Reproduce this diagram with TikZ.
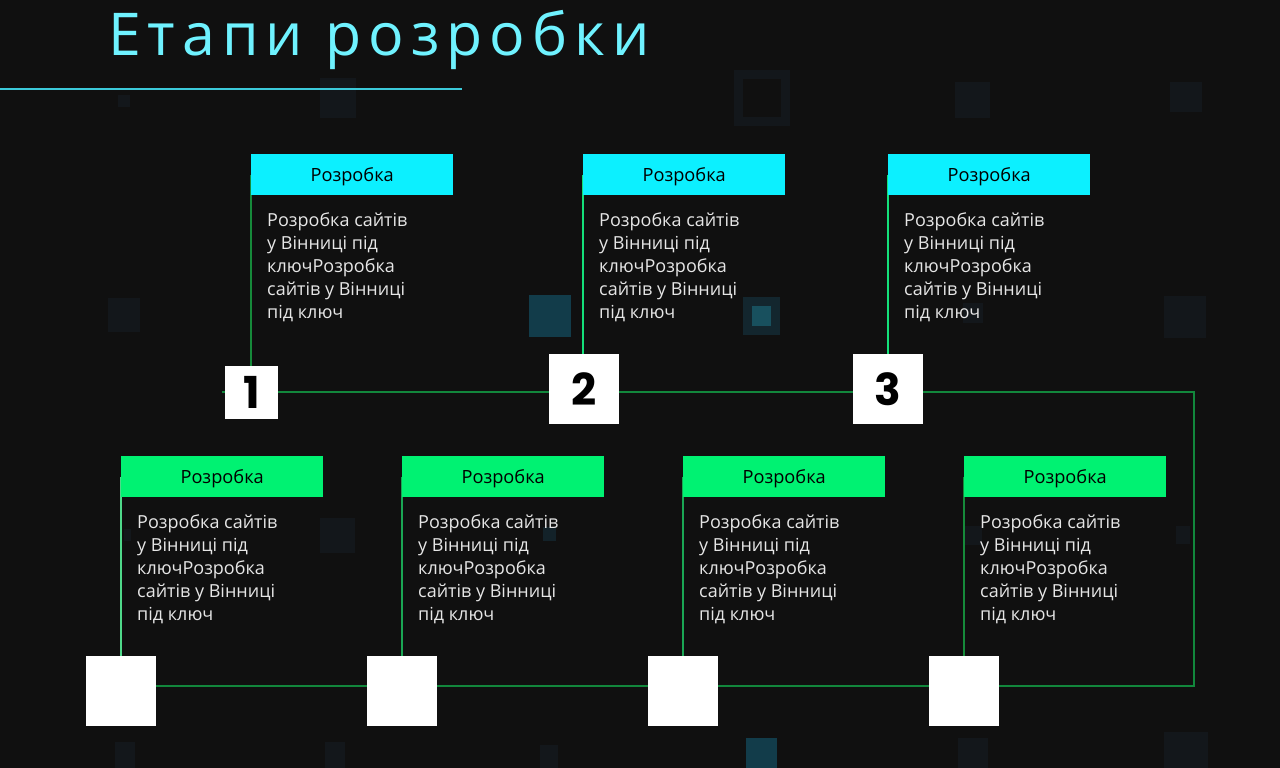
\documentclass[tikz,border=0pt]{standalone}
\usepackage{fontspec}
\setmainfont{Open Sans}
\newfontfamily\titlefont[LetterSpace=11.8]{Open Sans}
\newfontfamily\numfont{Poppins}
\definecolor{bg}{HTML}{101010}
\definecolor{cyanhead}{HTML}{0CF0FF}
\definecolor{greenhead}{HTML}{00F272}
\definecolor{mainline}{HTML}{12873C}
\definecolor{titlecol}{HTML}{6FF2FF}
\definecolor{rulecol}{HTML}{3CCADA}
\definecolor{faint}{HTML}{13171B}
\definecolor{teal}{HTML}{123C4A}
\definecolor{tealb}{HTML}{18505E}
\definecolor{bodytext}{HTML}{E6E6E6}
\definecolor{vdark}{HTML}{168A3A}
\definecolor{vbright}{HTML}{14E07A}
\definecolor{vlight}{HTML}{4FD98A}
\definecolor{vmid}{HTML}{1AA654}
\pgfdeclarelayer{decor}
\pgfdeclarelayer{lines}
\pgfsetlayers{decor,lines,main}
\tikzset{
  headbox/.style={minimum width=202pt, minimum height=41pt, inner sep=0pt, text height=14pt, text depth=0pt, anchor=north west, font=\fontsize{18.2}{20}\selectfont, text=black},
  bodybox/.style={anchor=north west, inner sep=0pt, align=left, font=\fontsize{18}{23}\selectfont, text=bodytext},
  bignum/.style={fill=white, minimum size=70pt, inner sep=0pt, font=\numfont\bfseries\fontsize{44}{44}\selectfont, text=black},
  smallnum/.style={fill=white, minimum size=53pt, inner sep=0pt, font=\numfont\bfseries\fontsize{44}{44}\selectfont, text=black},
  vline/.style={line width=1.2pt},
  mline/.style={draw=mainline, line width=2pt}
}
\begin{document}
\begin{tikzpicture}[x=1pt,y=-1pt]
\begin{pgfonlayer}{decor}
\fill[bg] (0,0) rectangle (1280,768);
\fill[faint] (734,70) rectangle (790,126);
\fill[bg] (743,79) rectangle (781,117);
\fill[faint] (955,82) rectangle (990,118);
\fill[faint] (1170,82) rectangle (1202,112);
\fill[faint] (320,78) rectangle (356,118);
\fill[faint] (118,95) rectangle (130,107);
\fill[faint] (108,298) rectangle (140,332);
\fill[faint] (1164,296) rectangle (1206,338);
\fill[faint] (963,303) rectangle (983,323);
\fill[teal] (529,295) rectangle (571,337);
\fill[faint!60!teal] (743,297) rectangle (780,335);
\fill[tealb] (752,306) rectangle (771,326);
\fill[faint] (320,518) rectangle (355,553);
\fill[faint] (124,529) rectangle (131,541);
\fill[faint!70!teal] (543,527) rectangle (556,541);
\fill[faint] (963,526) rectangle (982,545);
\fill[faint] (1176,526) rectangle (1190,544);
\fill[faint] (115,742) rectangle (135,768);
\fill[faint] (325,742) rectangle (345,768);
\fill[faint] (540,745) rectangle (558,768);
\fill[teal] (746,738) rectangle (777,768);
\fill[faint] (958,738) rectangle (988,768);
\fill[faint] (1164,732) rectangle (1208,768);
\end{pgfonlayer}
\useasboundingbox (0,0) rectangle (1280,768);
% title
\node (title) [anchor=base west, inner sep=0pt, text=titlecol, font=\titlefont\fontsize{59}{60}\selectfont] at (108,56) {Етапи розробки};
\draw[rulecol, line width=1pt] (0,89) -- (462,89);
% main line corners
\coordinate (ls) at (222,392);
\coordinate (rt) at (1194,392);
\coordinate (rb) at (1194,686);
% headers top
\node (h1) [headbox, fill=cyanhead] at (251,154) {Розробка};
\node (h2) [headbox, fill=cyanhead] at (583,154) {Розробка};
\node (h3) [headbox, fill=cyanhead] at (888,154) {Розробка};
% headers bottom
\node (g1) [headbox, fill=greenhead] at (121,456) {Розробка};
\node (g2) [headbox, fill=greenhead] at (402,456) {Розробка};
\node (g3) [headbox, fill=greenhead] at (683,456) {Розробка};
\node (g4) [headbox, fill=greenhead] at (964,456) {Розробка};
% number squares
\node (n1) [smallnum] at (251.5,392.5) {1};
\node (n2) [bignum] at (584,389) {2};
\node (n3) [bignum] at (888,389) {3};
\node (s1) [bignum] at (121,691) {};
\node (s2) [bignum] at (402,691) {};
\node (s3) [bignum] at (683,691) {};
\node (s4) [bignum] at (964,691) {};
% body texts
\foreach \nm/\x/\y in {t1/267/213, t2/599/213, t3/904/213, b1/137/515, b2/418/515, b3/699/515, b4/980/515}{
  \node (\nm) [bodybox] at (\x,\y) {Розробка сайтів\\у Вінниці під\\ключРозробка\\сайтів у Вінниці\\під ключ};
}
% connectors
\begin{pgfonlayer}{lines}
\draw[mline] (ls) -- (rt) -- (rb) -- (rb -| s1.center);
\draw[vline, draw=vdark] (h1.west) -- (h1.west |- n1.center);
\draw[vline, draw=vbright] (h2.west) -- (h2.west |- n2.center);
\draw[vline, draw=vbright] (h3.west) -- (h3.west |- n3.center);
\draw[vline, draw=vlight] (g1.west) -- (g1.west |- s1.center);
\draw[vline, draw=vmid] (g2.west) -- (g2.west |- s2.center);
\draw[vline, draw=vmid] (g3.west) -- (g3.west |- s3.center);
\draw[vline, draw=vdark] (g4.west) -- (g4.west |- s4.center);
\end{pgfonlayer}
\end{tikzpicture}
\end{document}
